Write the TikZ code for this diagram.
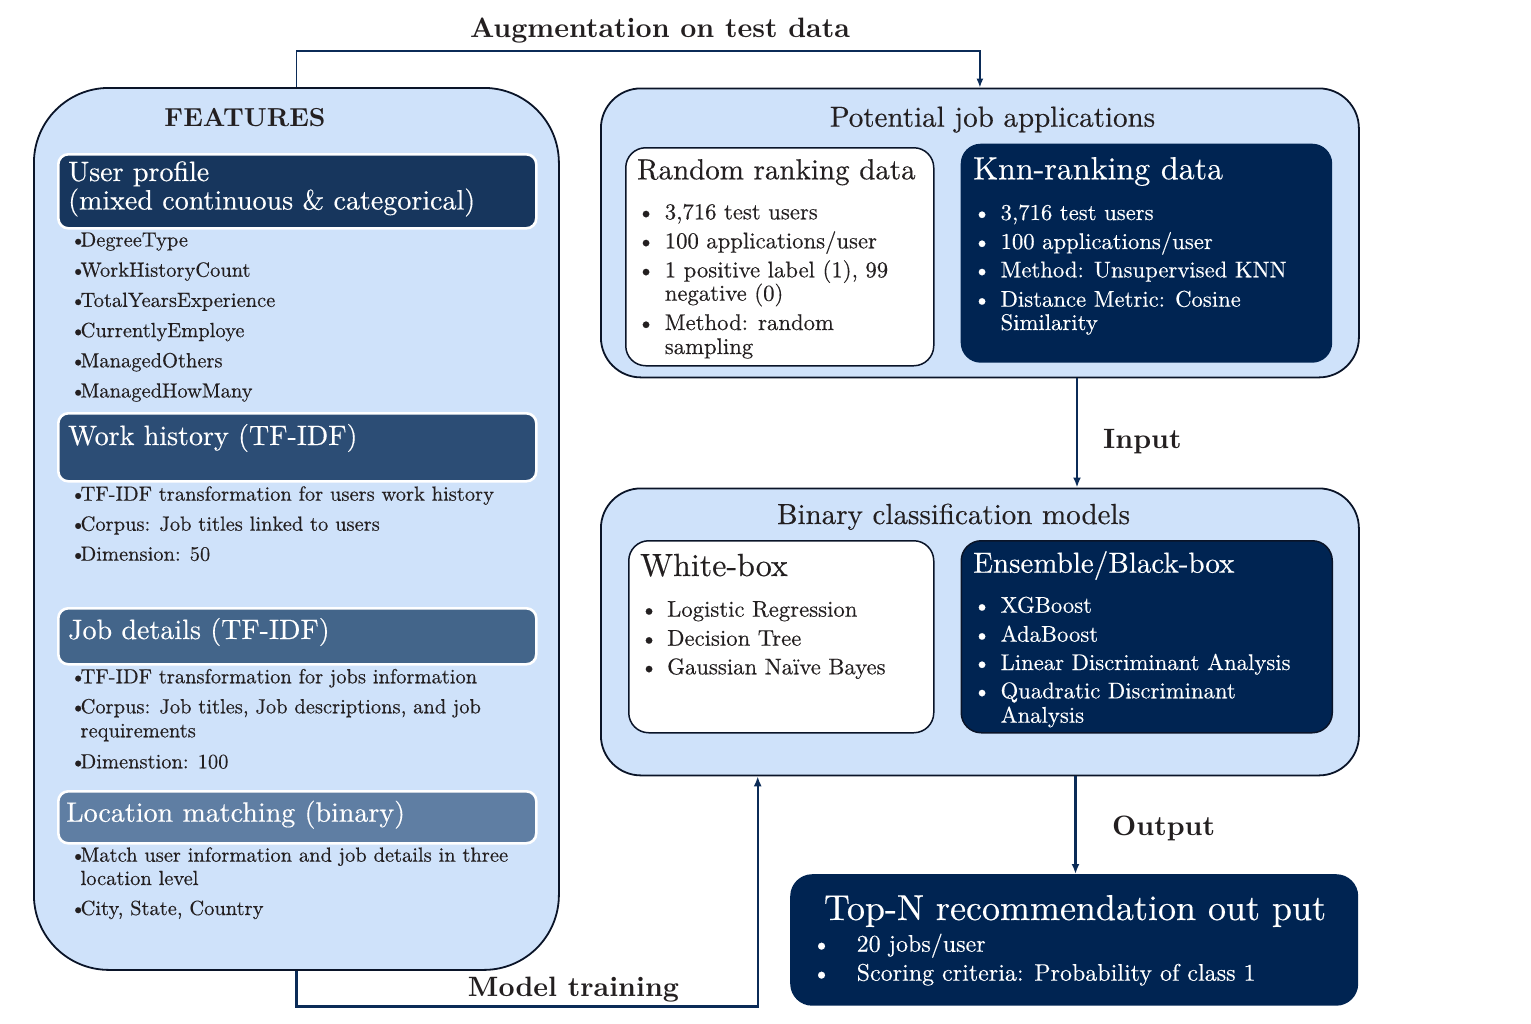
\documentclass[tikz,border=0pt]{standalone}
\usepackage{fontspec}
\setmainfont{lmroman10-regular.otf}[BoldFont=lmroman10-bold.otf, UprightFeatures={FakeBold=0.35}]
\usetikzlibrary{arrows.meta}
\definecolor{lightbg}{HTML}{CFE2FA}
\definecolor{navy}{HTML}{002452}
\definecolor{hdrA}{HTML}{17365D}
\definecolor{hdrB}{HTML}{2C4D75}
\definecolor{hdrC}{HTML}{43658A}
\definecolor{hdrD}{HTML}{5F7EA3}
\definecolor{arrc}{HTML}{0B2B57}
\definecolor{txtc}{HTML}{231F20}
\definecolor{edgec}{HTML}{0A1428}
\newcommand{\fsz}[1]{\fontsize{#1}{#1}\selectfont}
\newcommand{\bul}[1]{\makebox[#1][l]{\textbullet}}
\begin{document}
\begin{tikzpicture}[x=1pt,y=-1pt,
  bigbox/.style={draw=edgec, line width=1.8pt, fill=lightbg, anchor=north west, inner sep=0pt},
  hdrbox/.style={draw=white, line width=2.6pt, rounded corners=10pt, anchor=north west, inner sep=0pt, minimum width=478pt},
  whitebox/.style={draw=edgec, line width=1.5pt, fill=white, rounded corners=20pt, anchor=north west, inner sep=0pt},
  darkbox/.style={fill=navy, rounded corners=20pt, anchor=north west, inner sep=0pt},
  tl/.style={anchor=base west, inner sep=0pt, text=txtc},
  hw/.style={tl, text=white, font=\fsz{28}},
  fb/.style={tl, font=\fsz{20.5}},
  rb/.style={tl, font=\fsz{22.7}},
  wrb/.style={rb, text=white},
  lab/.style={anchor=base, inner sep=0pt, text=txtc, font=\bfseries\fsz{28}},
  labw/.style={lab, anchor=base west},
  ttl/.style={anchor=base, inner sep=0pt, text=txtc, font=\fsz{29}},
  thinarr/.style={draw=arrc, line width=1.3pt, -{Latex[length=9pt,width=7pt]}},
  thickarr/.style={draw=arrc, line width=2.4pt, -{Latex[length=10pt,width=8pt]}}
]
\useasboundingbox (0,0) rectangle (1531,1023);

% ---------- FEATURES ----------
\node[bigbox, rounded corners=75pt, minimum width=525pt, minimum height=882pt] (feat) at (33,87) {};
\node[anchor=base, inner sep=0pt, text=txtc, font=\bfseries\fsz{26}] (featt) at (245,126) {FEATURES};

\node[hdrbox, fill=hdrA, minimum height=74pt] (up) at (57,153) {};
\node[hw] (upt1) at (68,181) {User profile};
\node[hw] (upt2) at (68,209.5) {(mixed continuous \& categorical)};
\node[fb] (upb1) at (70,246.5) {\bul{10.4pt}DegreeType};
\node[fb] (upb2) at (70,276.7) {\bul{10.4pt}WorkHistoryCount};
\node[fb] (upb3) at (70,306.9) {\bul{10.4pt}TotalYearsExperience};
\node[fb] (upb4) at (70,337.1) {\bul{10.4pt}CurrentlyEmploye};
\node[fb] (upb5) at (70,367.3) {\bul{10.4pt}ManagedOthers};
\node[fb] (upb6) at (70,397.5) {\bul{10.4pt}ManagedHowMany};

\node[hdrbox, fill=hdrB, minimum height=68pt] (wh) at (57,412) {};
\node[hw] (wht) at (68,445) {Work history (TF-IDF)};
\node[fb] (whb1) at (70,500.7) {\bul{10.4pt}TF-IDF transformation for users work history};
\node[fb] (whb2) at (70,530.7) {\bul{10.4pt}Corpus: Job titles linked to users};
\node[fb] (whb3) at (70,560.7) {\bul{10.4pt}Dimension: 50};

\node[hdrbox, fill=hdrC, minimum height=56pt] (jd) at (57,607) {};
\node[hw] (jdt) at (68,639) {Job details (TF-IDF)};
\node[fb] (jdb1) at (70,683.3) {\bul{10.4pt}TF-IDF transformation for jobs information};
\node[fb] (jdb2) at (70,713.3) {\bul{10.4pt}Corpus: Job titles, Job descriptions, and job};
\node[fb] (jdb2b) at (80.4,737.3) {requirements};
\node[fb] (jdb3) at (70,768.3) {\bul{10.4pt}Dimenstion: 100};

\node[hdrbox, fill=hdrD, minimum height=52pt] (lm) at (57,790) {};
\node[hw] (lmt) at (66,821.7) {Location matching (binary)};
\node[fb] (lmb1) at (70,861.7) {\bul{10.4pt}Match user information and job details in three};
\node[fb] (lmb1b) at (80.4,885) {location level};
\node[fb] (lmb2) at (70,915) {\bul{10.4pt}City, State, Country};

% ---------- Potential job applications ----------
\node[bigbox, rounded corners=40pt, minimum width=758pt, minimum height=289pt] (pot) at (600,87.5) {};
\node[ttl] (pott) at (992.5,126.7) {Potential job applications};

\node[whitebox, minimum width=308pt, minimum height=218pt] (rr) at (625,147) {};
\node[tl, font=\fsz{29}] (rrt) at (637,179.3) {Random ranking data};
\node[rb] (rrb1) at (637,219.3) {\bul{27.6pt}3,716 test users};
\node[rb] (rrb2) at (637,248.3) {\bul{27.6pt}100 applications/user};
\node[rb] (rrb3) at (637,277.3) {\bul{27.6pt}1 positive label (1), 99};
\node[rb] (rrb3b) at (664.6,300.7) {negative (0)};
\node[rb] (rrb4) at (637,330) {\bul{27.6pt}Method: random};
\node[rb] (rrb4b) at (664.6,354) {sampling};

\node[darkbox, minimum width=371.5pt, minimum height=219pt] (knn) at (960.5,143.5) {};
\node[tl, text=white, font=\fsz{32}] (knnt) at (973,179.3) {Knn-ranking data};
\node[wrb] (knb1) at (973,220) {\bul{27.4pt}3,716 test users};
\node[wrb] (knb2) at (973,249) {\bul{27.4pt}100 applications/user};
\node[wrb] (knb3) at (973,277.3) {\bul{27.4pt}Method: Unsupervised KNN};
\node[wrb] (knb4) at (973,306.7) {\bul{27.4pt}Distance Metric: Cosine};
\node[wrb] (knb4b) at (1000.4,330) {Similarity};

% ---------- Binary classification models ----------
\node[bigbox, rounded corners=40pt, minimum width=758pt, minimum height=287pt] (bin) at (600,487.5) {};
\node[ttl] (bint) at (953.5,524) {Binary classification models};

\node[whitebox, minimum width=305pt, minimum height=192pt] (wb) at (628,540) {};
\node[tl, font=\fsz{32}] (wbt) at (640,576) {White-box};
\node[rb] (wbb1) at (640,616.7) {\bul{27pt}Logistic Regression};
\node[rb] (wbb2) at (640,645.7) {\bul{27pt}Decision Tree};
\node[rb] (wbb3) at (640,674.3) {\bul{27pt}Gaussian Naïve Bayes};

\node[darkbox, draw=edgec, line width=1.5pt, minimum width=371pt, minimum height=192pt] (eb) at (960.5,540) {};
\node[tl, text=white, font=\fsz{29}] (ebt) at (973,572.7) {Ensemble/Black-box};
\node[wrb] (ebb1) at (973,612.7) {\bul{27.4pt}XGBoost};
\node[wrb] (ebb2) at (973,641.7) {\bul{27.4pt}AdaBoost};
\node[wrb] (ebb3) at (973,670) {\bul{27.4pt}Linear Discriminant Analysis};
\node[wrb] (ebb4) at (973,698.3) {\bul{27.4pt}Quadratic Discriminant};
\node[wrb] (ebb4b) at (1000.4,722.7) {Analysis};

% ---------- Top-N ----------
\node[darkbox, rounded corners=22pt, minimum width=568pt, minimum height=131.5pt] (topn) at (790,874) {};
\node[anchor=base, inner sep=0pt, text=white, font=\fsz{36}] (topnt) at (1075,920) {Top-N recommendation out put};
\node[tl, text=white, font=\fsz{24}] (tnb1) at (812,951.7) {\bul{44.5pt}20 jobs/user};
\node[tl, text=white, font=\fsz{24}] (tnb2) at (812,980.7) {\bul{44.5pt}Scoring criteria: Probability of class 1};

% ---------- connectors ----------
\draw[thinarr] (feat.north) -- ++(0,-36) -| (pot.north);
\node[lab] (augl) at (660,37) {Augmentation on test data};

\coordinate (inx) at (1077,0);
\draw[thickarr] (pot.south -| inx) -- (bin.north -| inx);
\node[labw] (inl) at (1103,448) {Input};

\coordinate (outx) at (1075.5,0);
\draw[thickarr] (bin.south -| outx) -- (topn.north -| outx);
\node[labw] (outl) at (1112,835) {Output};

\coordinate (mt) at (757.7,1006.5);
\draw[thickarr] (feat.south) |- (mt) -- (bin.south -| mt);
\node[lab] (mtl) at (573.5,996) {Model training};
\end{tikzpicture}
\end{document}
